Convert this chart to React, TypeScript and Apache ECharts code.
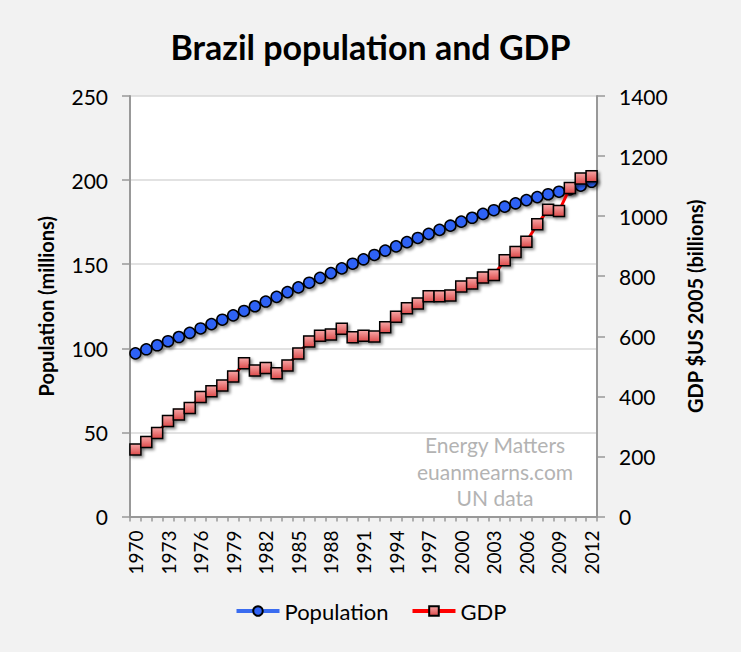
import React, { useEffect, useRef } from "react";
import * as echarts from "echarts";

const years: string[] = [];
for (let y = 1970; y <= 2012; y++) years.push(String(y));

const population = [
  97.0, 99.4, 101.8, 104.2, 106.7, 109.2, 111.8, 114.4, 117.0, 119.6,
  122.2, 125.0, 127.8, 130.6, 133.4, 136.2, 139.0, 141.9, 144.7, 147.5,
  150.3, 152.9, 155.5, 158.1, 160.6, 163.1, 165.6, 168.0, 170.4, 172.9,
  175.3, 177.6, 179.9, 182.1, 184.2, 186.2, 188.1, 189.9, 191.6, 193.1,
  194.5, 196.7, 199.0,
];

const gdp = [
  223, 248, 278, 318, 340, 361, 398, 417, 436, 466,
  510, 486, 494, 477, 503, 543, 583, 602, 606, 625,
  597, 602, 599, 630, 665, 693, 709, 733, 733, 736,
  766, 776, 796, 804, 853, 881, 915, 973, 1021, 1017,
  1094, 1125, 1133,
];

const watermark = ["Energy Matters", "euanmearns.com", "UN data"];

const FONT = "Lato, 'Open Sans', sans-serif";

export default function App() {
  const ref = useRef<HTMLDivElement>(null);
  useEffect(() => {
    if (!ref.current) return;
    const chart = echarts.init(ref.current, undefined, { renderer: "svg" });
    const shadow = {
      shadowBlur: 3,
      shadowOffsetX: 2,
      shadowOffsetY: 2,
      shadowColor: "rgba(0,0,0,0.45)",
    };
    chart.setOption({
      animation: false,
      backgroundColor: "#f2f2f2",
      textStyle: { fontFamily: FONT },
      title: {
        text: "Brazil population and GDP",
        left: "center",
        top: 24,
        textStyle: { fontSize: 34, fontWeight: "bold", color: "#000", fontFamily: FONT },
      },
      legend: {
        bottom: 25,
        left: "center",
        itemWidth: 43,
        itemHeight: 12,
        itemGap: 22,
        lineStyle: { width: 4 },
        textStyle: { fontSize: 22, color: "#000", fontFamily: FONT },
        data: ["Population", "GDP"],
      },
      grid: {
        left: 130,
        right: 144,
        top: 96,
        bottom: 135.5,
        show: true,
        backgroundColor: "#ffffff",
        borderWidth: 0,
      },
      graphic: watermark.map((t, i) => ({
        type: "text",
        x: 495,
        y: 434 + i * 26.5,
        z: 1,
        style: {
          text: t,
          fill: "#b3b3b3",
          fontSize: 21,
          fontFamily: FONT,
          align: "center",
          verticalAlign: "top",
        },
      })),
      xAxis: {
        type: "category",
        data: years,
        boundaryGap: true,
        axisLine: { lineStyle: { color: "#999999", width: 2 } },
        axisTick: { show: true, interval: 0, length: 5, lineStyle: { color: "#999999", width: 1.5 } },
        axisLabel: {
          interval: 2,
          rotate: 90,
          margin: 14,
          fontSize: 19,
          color: "#000",
          fontFamily: FONT,
        },
        splitLine: { show: false },
      },
      yAxis: [
        {
          type: "value",
          min: 0,
          max: 250,
          interval: 50,
          name: "Population (millions)",
          nameLocation: "middle",
          nameGap: 74,
          nameRotate: 90,
          nameTextStyle: { fontSize: 20, fontWeight: "bold", color: "#000", fontFamily: FONT },
          axisLine: { show: true, lineStyle: { color: "#999999", width: 2 } },
          axisTick: { show: true, length: 8, lineStyle: { color: "#999999", width: 1.5 } },
          axisLabel: { fontSize: 21, color: "#000", margin: 22, fontFamily: FONT },
          splitLine: { show: true, lineStyle: { color: "#d9d9d9", width: 1.5 } },
        },
        {
          type: "value",
          min: 0,
          max: 1400,
          interval: 200,
          position: "right",
          name: "GDP $US 2005 (billions)",
          nameLocation: "middle",
          nameGap: 88,
          nameRotate: 90,
          nameTextStyle: { fontSize: 20, fontWeight: "bold", color: "#000", fontFamily: FONT },
          axisLine: { show: true, lineStyle: { color: "#999999", width: 2 } },
          axisTick: { show: true, length: 8, lineStyle: { color: "#999999", width: 1.5 } },
          axisLabel: {
            fontSize: 21,
            color: "#000",
            margin: 22,
            fontFamily: FONT,
            formatter: (v: number) => String(v),
          },
          splitLine: { show: false },
        },
      ],
      series: [
        {
          name: "Population",
          type: "line",
          yAxisIndex: 0,
          data: population,
          symbol: "circle",
          symbolSize: 11,
          showAllSymbol: true,
          z: 3,
          lineStyle: { color: "#3a6cf0", width: 3 },
          itemStyle: { color: "#2f62f5", borderColor: "#000", borderWidth: 1.5, ...shadow },
        },
        {
          name: "GDP",
          type: "line",
          yAxisIndex: 1,
          data: gdp,
          symbol: "rect",
          symbolSize: 11,
          showAllSymbol: true,
          z: 4,
          lineStyle: { color: "#ff0000", width: 3 },
          itemStyle: {
            color: new echarts.graphic.LinearGradient(0, 0, 0, 1, [
              { offset: 0, color: "#f7a8a8" },
              { offset: 1, color: "#dc4a4a" },
            ]),
            borderColor: "#000",
            borderWidth: 1.5,
            ...shadow,
          },
        },
      ],
    });
    return () => chart.dispose();
  }, []);
  return (
    <div
      ref={ref}
      style={{ position: "absolute", left: 0, top: 0, width: 741, height: 652 }}
    />
  );
}
